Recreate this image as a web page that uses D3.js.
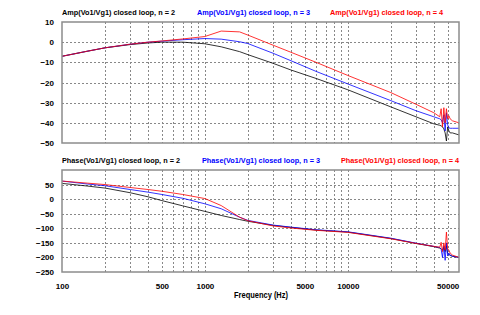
<!DOCTYPE html>
<html>
<head>
<meta charset="utf-8">
<script src="https://cdn.jsdelivr.net/npm/d3@7"></script>
<style>
  body { margin: 0; background: #fff; }
  text { font-family: "Liberation Sans", Arial, sans-serif; }
</style>
</head>
<body>
<svg id="chart" width="480" height="315"></svg>
<script>
// frequency points (Hz), shared by all series
var freqs = [100,150,200,300,400,500,700,1000,1300,1750,2000,3000,4000,6000,10000,20000,30000,40000,44000,45000,46000,47000,48000,49000,50000,51000,52000,54000,60000];

// amplitude (dB)
var ampN2 = [-7,-4.5,-2.8,-1.2,-0.4,0,0,-0.8,-2.3,-4.7,-6.2,-10.5,-13.8,-18,-23.6,-32.1,-37,-40.5,-41.2,-41.5,-42,-43,-45,-49,-42,-44,-45,-45,-46];
var ampN3 = [-7,-4.5,-2.8,-1,0,0.5,1.2,1.8,1.5,0.2,-0.7,-5.5,-9.2,-14.5,-20.7,-29,-34,-37,-38,-38.5,-40,-36,-44,-35,-41,-42.5,-42.7,-42.7,-42.7];
var ampN4 = [-7,-4.5,-2.8,-1,0,0.6,1.6,2.8,5.5,5.1,3.5,-1.5,-5,-10,-16.5,-25,-30.8,-35,-37,-33,-42,-32.5,-40,-33,-38,-36.5,-38,-39,-40];

// phase (deg)
var phN2 = [54,45,38,22,8,-5,-23,-42,-56,-70,-76,-90,-97,-106,-113,-135,-152,-163,-168,-170,-175,-165,-180,-160,-185,-190,-193,-196,-200];
var phN3 = [62,52,46,33,24,16,3,-16,-33,-62,-73,-89,-96,-105,-112,-134,-151,-162,-166,-172,-200,-160,-210,-150,-195,-185,-192,-196,-200];
var phN4 = [62,55,50,40,33,27,16,2,-22,-62,-74,-92,-99,-107,-114,-136,-152,-162,-165,-148,-180,-150,-175,-113,-170,-175,-185,-192,-200];

var xTicks = [100,500,1000,5000,10000,50000];
var xGrid = [200,300,400,500,600,700,800,900,1000,2000,3000,4000,5000,6000,7000,8000,9000,10000,20000,30000,40000,50000];
var ampTicks = [10,0,-10,-20,-30,-40,-50];
var phTicks = [50,0,-50,-100,-150,-200,-250];

var colors = ["#000000", "#0000ff", "#ff0000"];
var ampTitles = ["Amp(Vo1/Vg1) closed loop, n = 2", "Amp(Vo1/Vg1) closed loop, n = 3", "Amp(Vo1/Vg1) closed loop, n = 4"];
var phTitles = ["Phase(Vo1/Vg1) closed loop, n = 2", "Phase(Vo1/Vg1) closed loop, n = 3", "Phase(Vo1/Vg1) closed loop, n = 4"];

var svg = d3.select("#chart");
var x = d3.scaleLog().domain([100, 60000]).range([62, 459]);

function panel(top, bottom, domain, ticks, series, titles, titleX, titleW) {
  var y = d3.scaleLinear().domain(domain).range([bottom, top]);

  // grid
  svg.append("g").selectAll("line").data(xGrid).enter().append("line")
    .attr("x1", function(d) { return Math.round(x(d)) + 0.5; })
    .attr("x2", function(d) { return Math.round(x(d)) + 0.5; })
    .attr("y1", top).attr("y2", bottom)
    .attr("stroke", "#888").attr("stroke-dasharray", "2,2");
  svg.append("g").selectAll("line").data(ticks.filter(function(t) { return t != domain[0] && t != domain[1]; }))
    .enter().append("line")
    .attr("x1", x.range()[0]).attr("x2", x.range()[1])
    .attr("y1", function(d) { return Math.round(y(d)) + 0.5; })
    .attr("y2", function(d) { return Math.round(y(d)) + 0.5; })
    .attr("stroke", "#888").attr("stroke-dasharray", "2,2");

  // y axis labels
  var ax = svg.append("g").attr("transform", "translate(" + (x.range()[0] - 8) + ",0)")
    .call(d3.axisLeft(y).tickValues(ticks).tickSize(0).tickPadding(0));
  ax.select(".domain").remove();
  ax.selectAll("text").attr("font-size", "8px").attr("font-weight", "bold")
    .attr("font-family", "Liberation Sans, Arial, sans-serif").attr("fill", "#000");

  // curves
  var line = d3.line()
    .x(function(d, i) { return x(freqs[i]); })
    .y(function(d) { return y(d); });
  series.forEach(function(s, i) {
    svg.append("path").attr("d", line(s))
      .attr("fill", "none").attr("stroke", colors[i]).attr("stroke-width", 0.8);
  });

  // frame
  svg.append("rect").attr("x", x.range()[0]).attr("y", top)
    .attr("width", x.range()[1] - x.range()[0]).attr("height", bottom - top)
    .attr("fill", "none").attr("stroke", "#8c8c8c").attr("stroke-width", 1.5);

  // titles
  titles.forEach(function(t, i) {
    svg.append("text").attr("x", titleX[i]).attr("y", top - 7)
      .attr("font-size", "8px").attr("font-weight", "bold")
      .attr("textLength", titleW).attr("lengthAdjust", "spacingAndGlyphs")
      .attr("fill", colors[i]).text(t);
  });
}

panel(22, 143, [-50, 10], ampTicks, [ampN2, ampN3, ampN4], ampTitles, [62, 197, 330], 113);
panel(170, 272, [-250, 100], phTicks, [phN2, phN3, phN4], phTitles, [62, 202, 341], 118);

// x axis labels
var xa = svg.append("g").attr("transform", "translate(0,280)")
  .call(d3.axisBottom(x).tickValues(xTicks).tickSize(0).tickFormat(d3.format("d")));
xa.select(".domain").remove();
xa.selectAll("text").attr("font-size", "8px").attr("font-weight", "bold")
  .attr("font-family", "Liberation Sans, Arial, sans-serif").attr("fill", "#000");

svg.append("text").attr("x", 261).attr("y", 298).attr("text-anchor", "middle")
  .attr("font-size", "8.5px").attr("font-weight", "bold")
  .attr("textLength", 54).attr("lengthAdjust", "spacingAndGlyphs")
  .text("Frequency (Hz)");
</script>
</body>
</html>
